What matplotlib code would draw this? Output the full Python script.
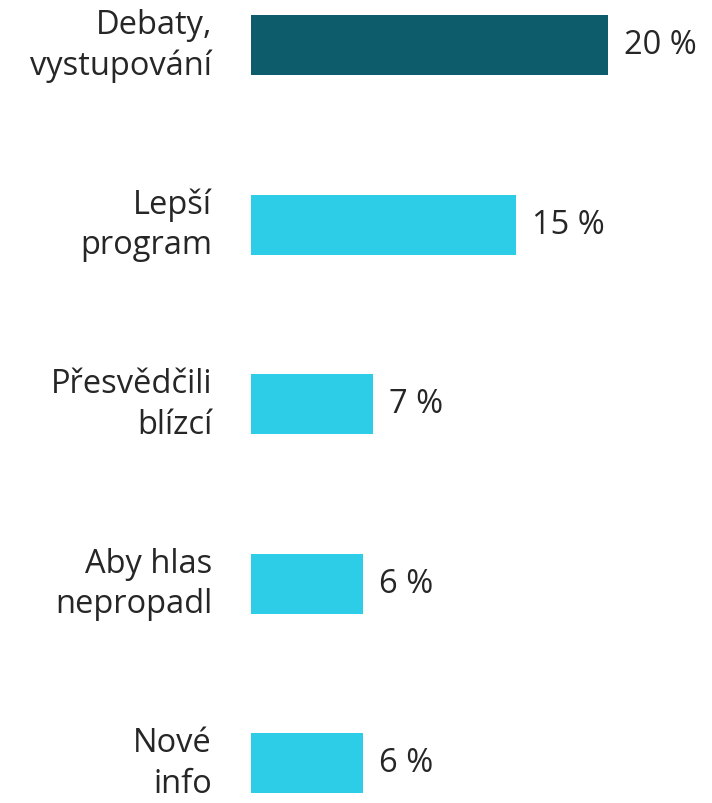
import matplotlib
matplotlib.use("Agg")
import matplotlib.pyplot as plt

categories = ["Debaty,\nvystupování", "Lepší\nprogram", "Přesvědčili\nblízcí", "Aby hlas\nnepropadl", "Nové\ninfo"]
values = [20.05, 14.9, 6.85, 6.3, 6.3]
value_labels = ["20 %", "15 %", "7 %", "6 %", "6 %"]
colors = ["#0d5c6b", "#2dcde8", "#2dcde8", "#2dcde8", "#2dcde8"]

plt.rcParams['font.family'] = ['Open Sans', 'DejaVu Sans']

W, H = 712, 804
fig = plt.figure(figsize=(W / 100, H / 100), dpi=100)
left_px = 251
ax = fig.add_axes([left_px / W, 0, 1 - left_px / W, 1])

px_per_unit = 17.8
ax.set_xlim(0, (W - left_px) / px_per_unit)
row = 179.5
ax.set_ylim(4 + (H - 764) / row, -46 / row)

pos = list(range(len(categories)))
ax.barh(pos, values, height=60 / row, color=colors)

fs = 23.5
for p, v, lab, cat in zip(pos, values, value_labels, categories):
    ax.text(v + 16 / px_per_unit, p, lab, va='center', ha='left', fontsize=fs, color='#262626')
    ax.text(-39 / px_per_unit, p, cat, va='center', ha='right', fontsize=fs, color='#262626',
            linespacing=1.3, clip_on=False)

ax.axis('off')
fig.savefig("out.png", dpi=100)
